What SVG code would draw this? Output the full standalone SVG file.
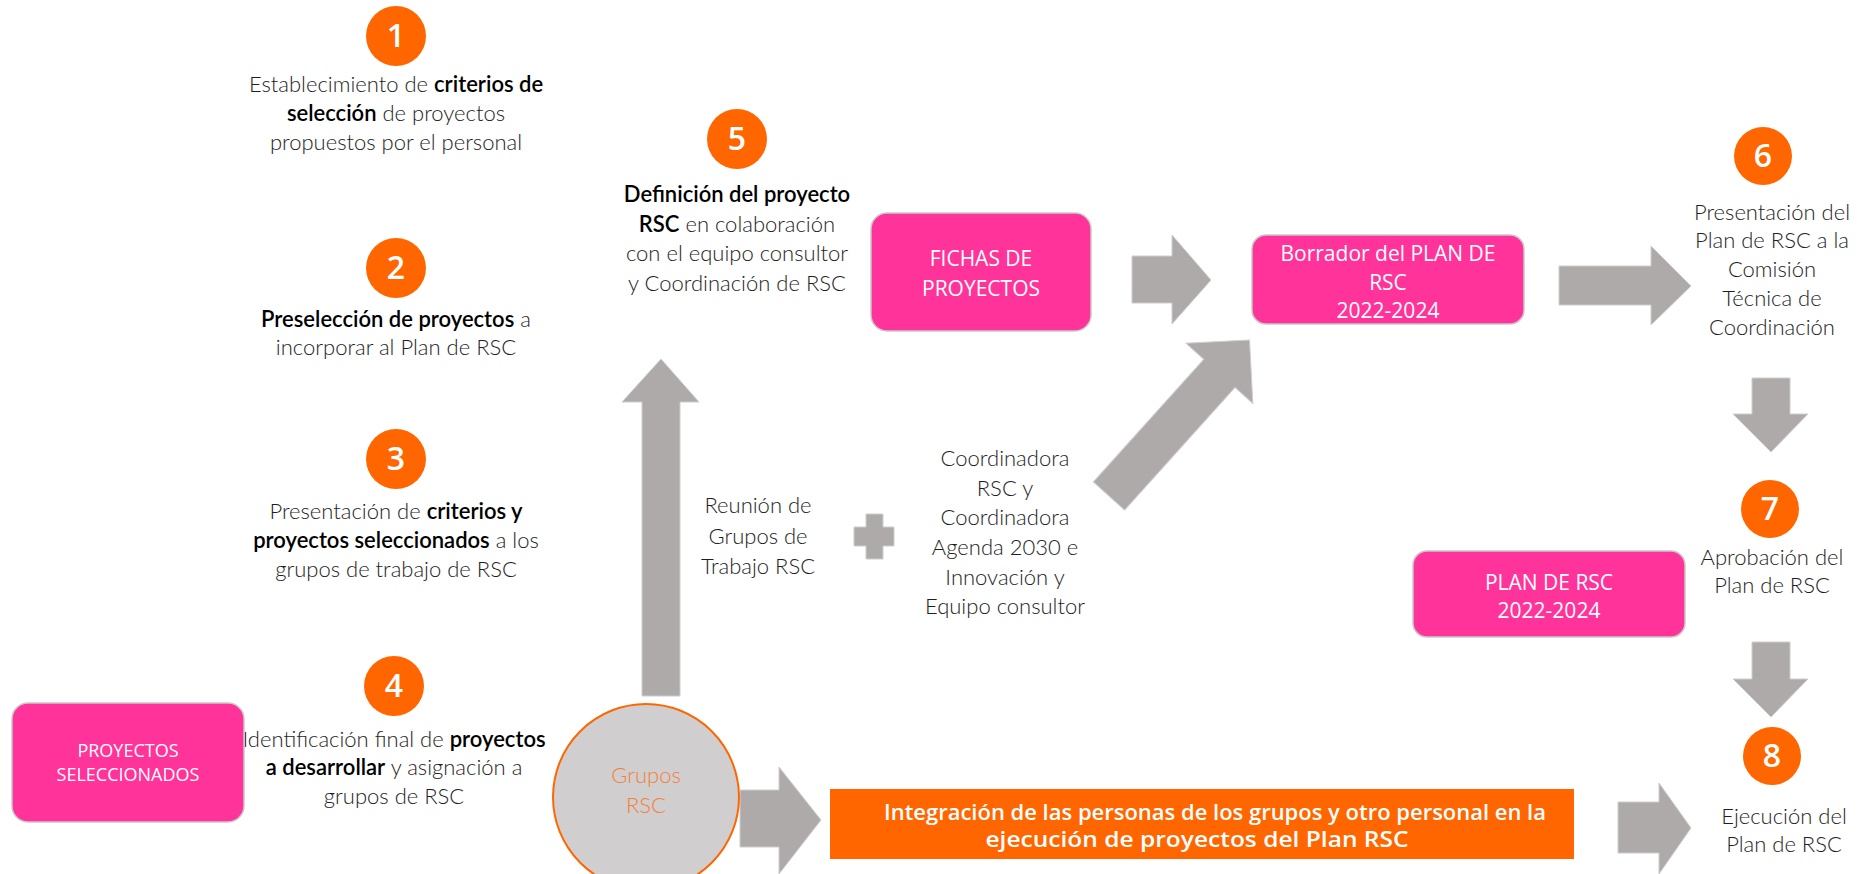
<svg xmlns="http://www.w3.org/2000/svg" width="1865" height="874" viewBox="0 0 1865 874">
<style>
.t{font-family:Lato,"Open Sans","Liberation Sans",sans-serif;font-size:22px;font-weight:300;fill:#1e1e1e;text-anchor:middle}
.b{font-weight:600;fill:#000}
.num{font-family:"Open Sans",Lato,"Liberation Sans",sans-serif;font-size:32px;font-weight:600;fill:#fff;text-anchor:middle}
.dot{fill:#ff6600}
.box{fill:#ff3399;stroke:#c9c9c9;stroke-width:1.5}
.bt{font-family:"Open Sans",Lato,"Liberation Sans",sans-serif;font-size:21px;fill:#fff;text-anchor:middle}
.it{font-family:"Open Sans",Lato,"Liberation Sans",sans-serif;font-size:21px;font-weight:600;fill:#fff;text-anchor:middle}
.arr{fill:#aeaaaa;stroke:#cfcdcd;stroke-width:1}
</style>
<rect width="1865" height="874" fill="#fff"/>
<g id="connectors">
<polygon class="arr" points="642,696 642,402 622,402 661,359 699,402 680,402 680,696"/>
<polygon class="arr" points="1132,256 1172,256 1172,235 1211,280 1172,324 1172,303 1132,303"/>
<polygon class="arr" points="1559,266 1651,266 1651,246 1691,286 1651,325 1651,305 1559,305"/>
<polygon class="arr" points="1752,378 1790,378 1790,414 1808,414 1771,452 1733,414 1752,414"/>
<polygon class="arr" points="1752,642 1790,642 1790,679 1808,679 1771,717 1733,679 1752,679"/>
<polygon class="arr" points="740,790 779,790 779,767 821,820 779,874 779,847 740,847"/>
<polygon class="arr" points="1618,802 1659,802 1659,783 1691,828 1659,874 1659,853 1618,853"/>
<polygon class="arr" transform="translate(1109,496) rotate(-48)" points="0,-21 165,-21 165,-45 210,0 165,45 165,21 0,21"/>
<polygon class="arr" points="866,514 883,514 883,527 894,527 894,546 883,546 883,559 866,559 866,546 854,546 854,527 866,527"/>
</g>
<g id="step1">
<circle class="dot" cx="396" cy="36" r="30"/>
<text class="num" x="396" y="47">1</text>
<text class="t" x="396" y="92">Establecimiento de <tspan class="b">criterios de</tspan></text>
<text class="t" x="396" y="121"><tspan class="b">selección</tspan> de proyectos</text>
<text class="t" x="396" y="150">propuestos por el personal</text>
</g>
<g id="step2">
<circle class="dot" cx="396" cy="268" r="30"/>
<text class="num" x="396" y="279">2</text>
<text class="t" x="396" y="327"><tspan class="b">Preselección de proyectos</tspan> a</text>
<text class="t" x="396" y="355">incorporar al Plan de RSC</text>
</g>
<g id="step3">
<circle class="dot" cx="396" cy="459" r="30"/>
<text class="num" x="396" y="470">3</text>
<text class="t" x="396" y="519">Presentación de <tspan class="b">criterios y</tspan></text>
<text class="t" x="396" y="548"><tspan class="b">proyectos seleccionados</tspan> a los</text>
<text class="t" x="396" y="577">grupos de trabajo de RSC</text>
</g>
<g id="step4">
<circle class="dot" cx="394" cy="686" r="30"/>
<text class="num" x="394" y="697">4</text>
<text class="t" x="394" y="747">Identificación final de <tspan class="b">proyectos</tspan></text>
<text class="t" x="394" y="775"><tspan class="b">a desarrollar</tspan> y asignación a</text>
<text class="t" x="394" y="804">grupos de RSC</text>
</g>
<g id="proyectos-seleccionados">
<rect class="box" x="12" y="703" width="232" height="119" rx="16"/>
<text class="bt" x="128" y="757" style="font-size:18px">PROYECTOS</text>
<text class="bt" x="128" y="781" style="font-size:18px">SELECCIONADOS</text>
</g>
<g id="grupos-rsc">
<circle cx="646" cy="797" r="93" fill="#d0cece" stroke="#ff6600" stroke-width="2"/>
<text class="t" x="646" y="783" style="fill:#f4813b">Grupos</text>
<text class="t" x="646" y="813" style="fill:#f4813b">RSC</text>
</g>
<g id="step5">
<circle class="dot" cx="737" cy="139" r="30"/>
<text class="num" x="737" y="150">5</text>
<text class="t" x="737" y="202"><tspan class="b">Definición del proyecto</tspan></text>
<text class="t" x="737" y="232"><tspan class="b">RSC</tspan> en colaboración</text>
<text class="t" x="737" y="261">con el equipo consultor</text>
<text class="t" x="737" y="291">y Coordinación de RSC</text>
</g>
<g id="reunion">
<text class="t" x="758" y="513">Reunión de</text>
<text class="t" x="758" y="544">Grupos de</text>
<text class="t" x="758" y="574">Trabajo RSC</text>
</g>
<g id="coordinadora">
<text class="t" x="1005" y="466">Coordinadora</text>
<text class="t" x="1005" y="496">RSC y</text>
<text class="t" x="1005" y="525">Coordinadora</text>
<text class="t" x="1005" y="555">Agenda 2030 e</text>
<text class="t" x="1005" y="585">Innovación y</text>
<text class="t" x="1005" y="614">Equipo consultor</text>
</g>
<g id="fichas">
<rect class="box" x="871" y="213" width="220" height="118" rx="16"/>
<text class="bt" x="981" y="266">FICHAS DE</text>
<text class="bt" x="981" y="296">PROYECTOS</text>
</g>
<g id="borrador">
<rect class="box" x="1252" y="235" width="272" height="89" rx="14"/>
<text class="bt" x="1388" y="261">Borrador del PLAN DE</text>
<text class="bt" x="1388" y="290">RSC</text>
<text class="bt" x="1388" y="318">2022-2024</text>
</g>
<g id="step6">
<circle class="dot" cx="1763" cy="156" r="29"/>
<text class="num" x="1763" y="167">6</text>
<text class="t" x="1772" y="220">Presentación del</text>
<text class="t" x="1772" y="248">Plan de RSC a la</text>
<text class="t" x="1772" y="277">Comisión</text>
<text class="t" x="1772" y="306">Técnica de</text>
<text class="t" x="1772" y="335">Coordinación</text>
</g>
<g id="step7">
<circle class="dot" cx="1770" cy="509" r="29"/>
<text class="num" x="1770" y="520">7</text>
<text class="t" x="1772" y="565">Aprobación del</text>
<text class="t" x="1772" y="593">Plan de RSC</text>
</g>
<g id="plan">
<rect class="box" x="1413" y="551" width="272" height="86" rx="14"/>
<text class="bt" x="1549" y="590">PLAN DE RSC</text>
<text class="bt" x="1549" y="618"> 2022-2024</text>
</g>
<g id="step8">
<circle class="dot" cx="1772" cy="756" r="29"/>
<text class="num" x="1772" y="767">8</text>
<text class="t" x="1784" y="824">Ejecución del</text>
<text class="t" x="1784" y="852">Plan de RSC</text>
</g>
<g id="integracion">
<rect x="830" y="789" width="744" height="70" fill="#ff6600"/>
<text class="it" x="1215" y="820" textLength="662" lengthAdjust="spacingAndGlyphs">Integración de las personas de los grupos y otro personal en la</text>
<text class="it" x="1197" y="847" textLength="423" lengthAdjust="spacingAndGlyphs">ejecución de proyectos del Plan RSC</text>
</g>
</svg>
